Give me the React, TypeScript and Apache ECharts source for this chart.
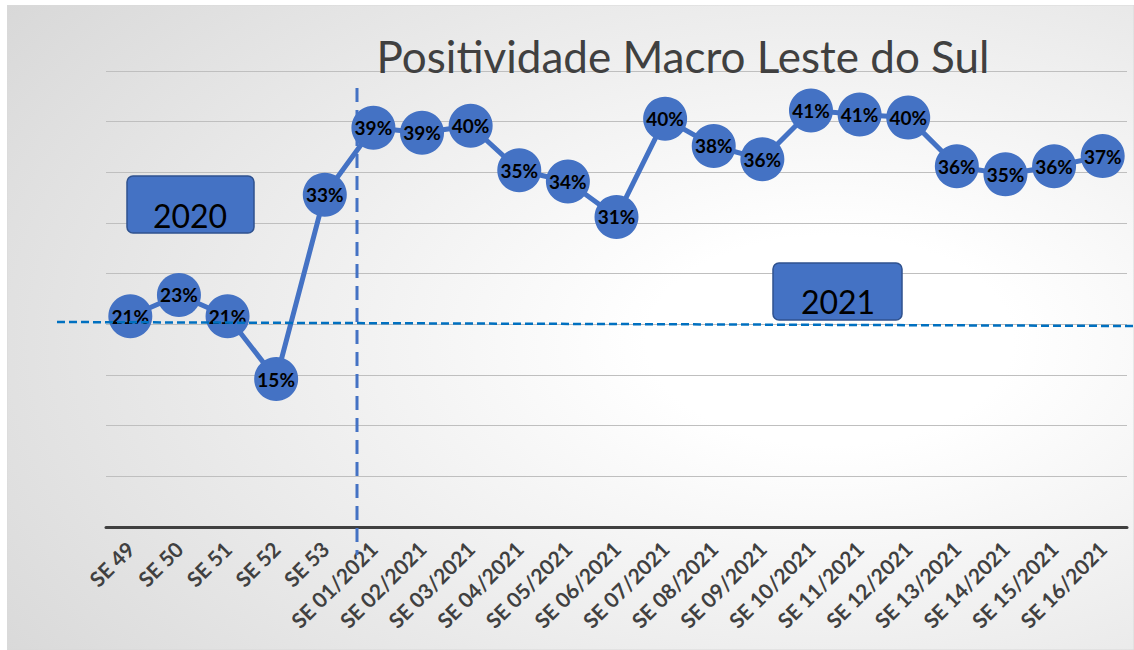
import React, { useEffect, useRef } from "react";
import * as echarts from "echarts";

const categories = [
  "SE 49", "SE 50", "SE 51", "SE 52", "SE 53",
  "SE 01/2021", "SE 02/2021", "SE 03/2021", "SE 04/2021", "SE 05/2021",
  "SE 06/2021", "SE 07/2021", "SE 08/2021", "SE 09/2021", "SE 10/2021",
  "SE 11/2021", "SE 12/2021", "SE 13/2021", "SE 14/2021", "SE 15/2021", "SE 16/2021",
];
const positividade = [
  20.8, 22.9, 20.8, 14.6, 32.8,
  39.4, 38.9, 39.6, 35.2, 34.1,
  30.6, 40.3, 37.6, 36.3, 41.1,
  40.7, 40.4, 35.6, 34.8, 35.6, 36.6,
];
const titleText = "Positividade Macro Leste do Sul";
const yearLabels = ["2020", "2021"];

const BLUE = "#4472C4";

export default function App() {
  const ref = useRef<HTMLDivElement>(null);
  useEffect(() => {
    document.body.style.margin = "0";
    const chart = echarts.init(ref.current!, null, { renderer: "svg" });
    const W = 1127, H = 645;
    chart.setOption({
      animation: false,
      title: {
        text: titleText,
        left: 671,
        top: 24,
        textAlign: "center",
        textStyle: { fontFamily: "Lato", fontWeight: "normal", fontSize: 44, color: "#404040" },
      },
      grid: { left: 99, right: 7, top: 66, bottom: 123, containLabel: false },
      xAxis: {
        type: "category",
        data: categories,
        boundaryGap: true,
        axisLine: { show: true, lineStyle: { color: "#404040", width: 3 } },
        axisTick: { show: false },
        axisLabel: {
          rotate: 45,
          margin: 18,
          interval: 0,
          fontFamily: "Lato",
          fontWeight: "bold",
          fontSize: 21,
          color: "#404040",
        },
      },
      yAxis: {
        type: "value",
        min: 0,
        max: 45,
        interval: 5,
        axisLine: { show: false },
        axisTick: { show: false },
        axisLabel: { show: false },
        splitLine: { show: true, lineStyle: { color: "#bfbfbf", width: 1.2 } },
      },
      series: [
        {
          type: "line",
          data: positividade,
          symbol: "circle",
          symbolSize: 44,
          itemStyle: { color: BLUE },
          lineStyle: { color: BLUE, width: 5 },
          z: 5,
          label: {
            show: true,
            position: "inside",
            formatter: (p: any) => Math.round(p.value) + "%",
            fontFamily: "Lato",
            fontWeight: "bold",
            fontSize: 19,
            color: "#000000",
          },
        },
      ],
      graphic: [
        {
          type: "rect",
          z: -10,
          silent: true,
          shape: { x: 0, y: 0, width: W, height: H },
          style: {
            fill: new echarts.graphic.RadialGradient(0.73, 0.52, 1.35, [
              { offset: 0, color: "#ffffff" },
              { offset: 0.12, color: "#ffffff" },
              { offset: 1, color: "#c0c0c0" },
            ]),
            stroke: "#d9d9d9",
            lineWidth: 1,
          },
        },
        {
          type: "line",
          z: 1,
          silent: true,
          shape: { x1: 350, y1: 83, x2: 350, y2: 550 },
          style: { stroke: BLUE, lineWidth: 3, lineDash: [14, 8] },
        },
        {
          type: "line",
          z: 50,
          silent: true,
          shape: { x1: 50, y1: 317, x2: 1127, y2: 321 },
          style: { stroke: "#0070C0", lineWidth: 2.5, lineDash: [8, 4] },
        },
        {
          type: "rect",
          z: 20,
          shape: { x: 120, y: 171, width: 127, height: 57, r: 6 },
          style: { fill: BLUE, stroke: "#2F528F", lineWidth: 1.5 },
        },
        {
          type: "text",
          z: 21,
          x: 183,
          y: 210,
          style: {
            text: yearLabels[0],
            fontFamily: "Lato",
            fontSize: 32,
            fill: "#000000",
            align: "center",
            verticalAlign: "middle",
          },
        },
        {
          type: "rect",
          z: 20,
          shape: { x: 766, y: 258, width: 129, height: 57, r: 6 },
          style: { fill: BLUE, stroke: "#2F528F", lineWidth: 1.5 },
        },
        {
          type: "text",
          z: 21,
          x: 831,
          y: 296,
          style: {
            text: yearLabels[1],
            fontFamily: "Lato",
            fontSize: 32,
            fill: "#000000",
            align: "center",
            verticalAlign: "middle",
          },
        },
      ],
    });
    return () => chart.dispose();
  }, []);
  return (
    <div
      ref={ref}
      style={{ position: "absolute", left: 7, top: 5, width: 1127, height: 645 }}
    />
  );
}
